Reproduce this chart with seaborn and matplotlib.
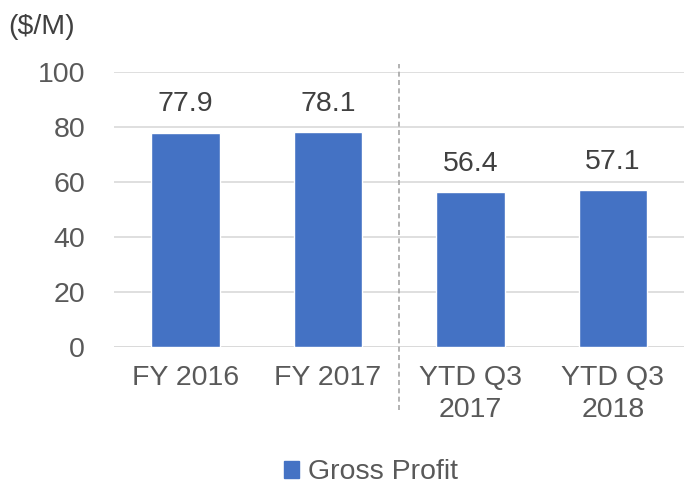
import matplotlib
matplotlib.use("Agg")
import matplotlib.pyplot as plt
import seaborn as sns
import pandas as pd
from matplotlib.patches import Patch

categories = ["FY 2016", "FY 2017", "YTD Q3\n2017", "YTD Q3\n2018"]
values = [77.9, 78.1, 56.4, 57.1]
series_name = "Gross Profit"
yticks = [0, 20, 40, 60, 80, 100]

sns.set_theme(style="white")
plt.rcParams['font.family'] = ['Liberation Sans', 'DejaVu Sans']
txt = "#595959"
blue = "#4472C4"

df = pd.DataFrame({"cat": categories, "val": values})
fig = plt.figure(figsize=(6.84, 4.86), dpi=100)
ax = fig.add_axes([0.167, 0.286, 0.833, 0.566])
sns.barplot(data=df, x="cat", y="val", color=blue, width=0.48, saturation=1, ax=ax, zorder=3)
ax.set_ylim(0, 100)
ax.set_xlim(-0.5, 3.5)
ax.set_yticks(yticks)
ax.yaxis.grid(True, color="#D9D9D9", linewidth=1.2, zorder=0)
for s in ax.spines.values():
    s.set_visible(False)
ax.axhline(0, color="#D9D9D9", linewidth=1.2, zorder=1)
ax.set_xlabel("")
ax.set_ylabel("")
ax.tick_params(axis="both", length=0, labelsize=20.5, labelcolor=txt)
ax.tick_params(axis="y", pad=21)
ax.tick_params(axis="x", pad=13)
for lbl in ax.get_xticklabels():
    lbl.set_linespacing(1.3)
for c in ax.containers:
    ax.bar_label(c, labels=[f"{v:.1f}" for v in values], padding=11, fontsize=20.5, color="#404040")
ax.plot([1.5, 1.5], [-23, 103], linestyle=(0, (3, 2)), color="#A6A6A6", linewidth=1.2,
        clip_on=False, zorder=2)
fig.text(0.012, 0.945, "($/M)", fontsize=20.5, color="#404040", ha="left", va="center")
ax.legend(handles=[Patch(color=blue, label=series_name)], loc="center",
          bbox_to_anchor=(0.45, -0.455), frameon=False, fontsize=20.5, labelcolor=txt,
          handlelength=0.55, handleheight=0.55, handletextpad=0.3)
fig.savefig("out.png", dpi=100)
